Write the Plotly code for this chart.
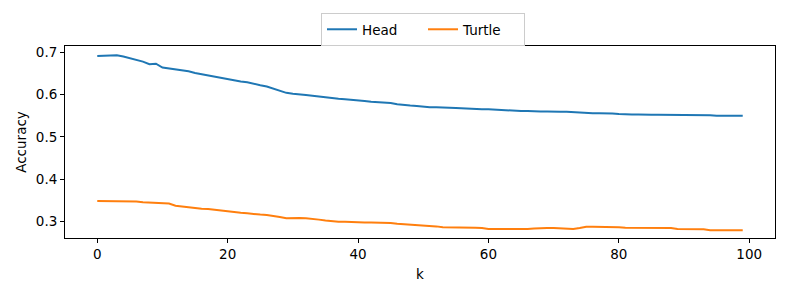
import plotly.graph_objects as go

k = list(range(100))
head = [0.691, 0.692, 0.693, 0.693, 0.690, 0.686, 0.681, 0.678, 0.672, 0.673,
        0.664, 0.662, 0.660, 0.657, 0.655, 0.651, 0.648, 0.646, 0.643, 0.639,
        0.636, 0.633, 0.631, 0.629, 0.625, 0.622, 0.619, 0.614, 0.609, 0.604,
        0.602, 0.601, 0.599, 0.597, 0.595, 0.593, 0.592, 0.590, 0.589, 0.588,
        0.586, 0.585, 0.583, 0.582, 0.581, 0.580, 0.577, 0.575, 0.574, 0.573,
        0.571, 0.570, 0.570, 0.570, 0.569, 0.568, 0.567, 0.566, 0.566, 0.565,
        0.565, 0.564, 0.563, 0.563, 0.562, 0.561, 0.561, 0.560, 0.560, 0.560,
        0.559, 0.559, 0.559, 0.558, 0.558, 0.557, 0.556, 0.556, 0.556, 0.555,
        0.554, 0.553, 0.553, 0.553, 0.552, 0.552, 0.552, 0.552, 0.552, 0.552,
        0.552, 0.551, 0.551, 0.551, 0.551, 0.550, 0.550, 0.550, 0.550, 0.550]
turtle = [0.348, 0.348, 0.347, 0.347, 0.347, 0.347, 0.347, 0.345, 0.344, 0.343,
          0.342, 0.342, 0.337, 0.335, 0.333, 0.331, 0.330, 0.329, 0.327, 0.325,
          0.323, 0.321, 0.320, 0.319, 0.317, 0.316, 0.315, 0.313, 0.310, 0.307,
          0.308, 0.308, 0.307, 0.306, 0.304, 0.302, 0.300, 0.299, 0.299, 0.298,
          0.298, 0.297, 0.297, 0.297, 0.296, 0.296, 0.294, 0.293, 0.293, 0.292,
          0.291, 0.290, 0.288, 0.286, 0.286, 0.286, 0.286, 0.286, 0.285, 0.284,
          0.282, 0.282, 0.282, 0.282, 0.281, 0.281, 0.282, 0.283, 0.284, 0.284,
          0.284, 0.283, 0.283, 0.282, 0.284, 0.287, 0.287, 0.287, 0.286, 0.286,
          0.286, 0.285, 0.285, 0.285, 0.285, 0.285, 0.285, 0.285, 0.284, 0.282,
          0.282, 0.282, 0.282, 0.281, 0.279, 0.279, 0.279, 0.279, 0.279, 0.279]
x_ticks = [0, 20, 40, 60, 80, 100]
y_ticks = [0.3, 0.4, 0.5, 0.6, 0.7]

font = "DejaVu Sans"
fs = 13.5
fig = go.Figure()
fig.add_trace(go.Scatter(x=k, y=head, mode="lines", name="Head",
                         line=dict(color="#1f77b4", width=2)))
fig.add_trace(go.Scatter(x=k, y=turtle, mode="lines", name="Turtle",
                         line=dict(color="#ff7f0e", width=2)))

axis_common = dict(showline=True, linecolor="black", linewidth=1, mirror=True,
                   ticks="outside", ticklen=4, tickcolor="black", showgrid=False,
                   zeroline=False, automargin=False,
                   tickfont=dict(family=font, size=fs, color="black"))
fig.update_layout(
    width=789, height=296,
    margin=dict(l=65, r=14, t=46, b=58),
    plot_bgcolor="white", paper_bgcolor="white",
    font=dict(family=font, size=fs, color="black"),
    xaxis=dict(range=[-4.95, 103.95], tickvals=x_ticks,
               title=dict(text="k", font=dict(family=font, size=fs), standoff=8),
               **axis_common),
    yaxis=dict(range=[0.2605, 0.7149], tickvals=y_ticks, tickformat=".1f",
               title=dict(text="Accuracy", font=dict(family=font, size=fs), standoff=6),
               **axis_common),
    legend=dict(orientation="h", x=423 / 789, xanchor="center", xref="container",
                y=1 - 13 / 296, yanchor="top", yref="container",
                bordercolor="#cccccc", borderwidth=1, bgcolor="white",
                font=dict(family=font, size=fs), itemwidth=30,
                entrywidth=56, entrywidthmode="pixels"),
    showlegend=True,
)
fig.write_html("out.html", config={"displayModeBar": False},
               post_script="document.body.style.margin='0';")
